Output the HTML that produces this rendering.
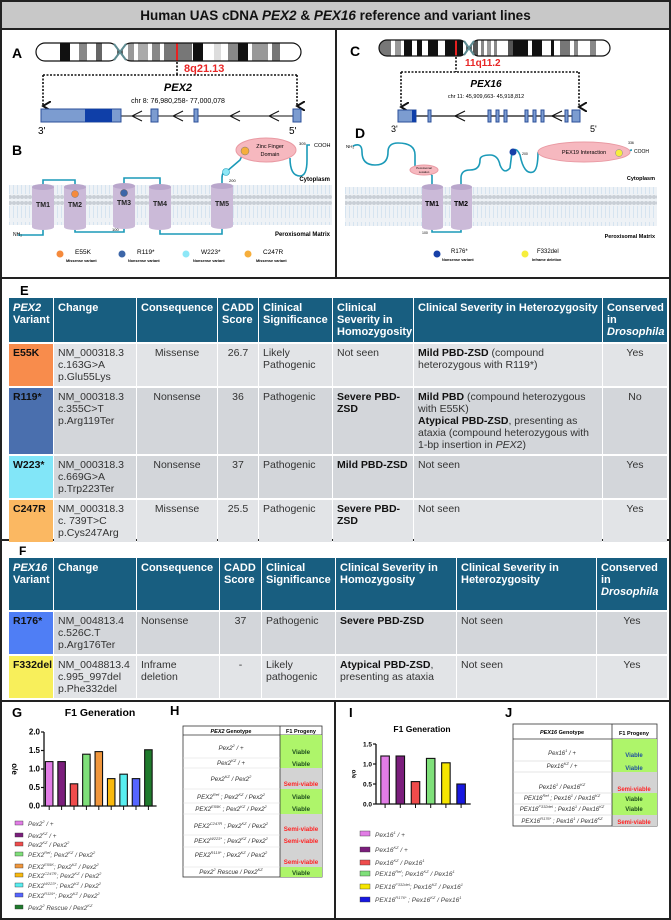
<!DOCTYPE html>
<html><head><meta charset="utf-8">
<style>
*{margin:0;padding:0;box-sizing:border-box}
body{width:671px;height:920px;background:#fff;font-family:"Liberation Sans",Arial,sans-serif;position:relative;overflow:hidden}
.abs{position:absolute}
table.t{position:absolute;border-collapse:separate;border-spacing:1px 2px;table-layout:fixed;font-size:10.5px;line-height:12px;color:#333}
table.t td{vertical-align:top;padding:3px 4px;background:#d3d6da;overflow:hidden}
table.t tr.h td{background:#185e80;color:#fff;font-weight:bold;font-size:11px;line-height:12px;padding:4px 4px}
table.t tr.r2 td{background:#e2e4e7}
table.t td.v{font-weight:bold;color:#111;padding-left:4px}
.c{text-align:center}
b{color:#111}
</style></head>
<body>
<div class="abs" style="left:0;top:0;width:671px;height:920px;border:2px solid #222"></div>
<div class="abs" style="left:2px;top:2px;width:667px;height:28px;background:#c8c8c8;border-bottom:2px solid #222;text-align:center;font-weight:bold;font-size:13.5px;line-height:28px;color:#111">Human UAS cDNA <i>PEX2</i> &amp; <i>PEX16</i> reference and variant lines</div>

<svg class="abs" style="left:0;top:0" width="671" height="920">
<defs>
<pattern id="lip" width="4" height="40" patternUnits="userSpaceOnUse">
<rect width="4" height="40" fill="#eef2f6"/>
<circle cx="2" cy="3" r="2" fill="#c9cfd6"/>
<circle cx="2" cy="37" r="2" fill="#c9cfd6"/>
<line x1="1.5" y1="6" x2="1.5" y2="18" stroke="#d6e4f0" stroke-width="1"/>
<line x1="1.5" y1="22" x2="1.5" y2="34" stroke="#d6e4f0" stroke-width="1"/>
</pattern>
<clipPath id="chrA"><rect x="36" y="43" width="82" height="18" rx="9"/><rect x="122" y="43" width="179" height="18" rx="9"/></clipPath>
<clipPath id="chrC"><rect x="379" y="40" width="88" height="16" rx="8"/><rect x="471" y="40" width="139" height="16" rx="8"/></clipPath>
<marker id="arr" markerWidth="6" markerHeight="6" refX="3" refY="5" orient="auto"><path d="M0,0 L3,5 L6,0" fill="none" stroke="#111" stroke-width="1.2"/></marker>
</defs>
<line x1="2" y1="278" x2="669" y2="278" stroke="#222" stroke-width="2"/>
<line x1="336" y1="30" x2="336" y2="278" stroke="#222" stroke-width="2"/>
<line x1="2" y1="540" x2="669" y2="540" stroke="#222" stroke-width="2"/>
<line x1="2" y1="701" x2="669" y2="701" stroke="#222" stroke-width="2"/>
<line x1="335" y1="701" x2="335" y2="918" stroke="#222" stroke-width="2"/>

<text x="12" y="58" font-size="14" font-weight="bold">A</text>
<g clip-path="url(#chrA)">
<rect x="30" y="40" width="280" height="25" fill="#fff"/>
<rect x="60" y="40" width="10" height="25" fill="#111"/><rect x="79" y="40" width="8" height="25" fill="#888"/><rect x="96" y="40" width="6" height="25" fill="#666"/>
<rect x="128" y="40" width="6" height="25" fill="#999"/><rect x="138" y="40" width="10" height="25" fill="#aaa"/><rect x="152" y="40" width="8" height="25" fill="#888"/><rect x="164" y="40" width="12" height="25" fill="#777"/>
<rect x="176" y="40" width="2.5" height="25" fill="#e82020"/><rect x="178" y="40" width="14" height="25" fill="#777"/><rect x="193" y="40" width="10" height="25" fill="#111"/>
<rect x="214" y="40" width="7" height="25" fill="#ddd"/><rect x="228" y="40" width="10" height="25" fill="#888"/><rect x="238" y="40" width="10" height="25" fill="#111"/><rect x="252" y="40" width="16" height="25" fill="#999"/><rect x="272" y="40" width="8" height="25" fill="#777"/>
</g>
<rect x="36" y="43" width="82" height="18" rx="9" fill="none" stroke="#111" stroke-width="1.2"/>
<rect x="122" y="43" width="179" height="18" rx="9" fill="none" stroke="#111" stroke-width="1.2"/>
<path d="M114,44 L126,60 M114,60 L126,44" stroke="#5e8c92" stroke-width="2"/>
<text x="184" y="72" font-size="11" font-weight="bold" fill="#e82626">8q21.13</text>
<path d="M177,62 V75 M43,75 H297" stroke="#111" stroke-width="1.6" stroke-dasharray="2,1.5" fill="none"/>
<path d="M297,75 V106" stroke="#111" stroke-width="1.6" stroke-dasharray="2,1.5" fill="none" marker-end="url(#arr)"/>
<path d="M43,75 V106" stroke="#111" stroke-width="1.6" stroke-dasharray="2,1.5" fill="none" marker-end="url(#arr)"/>
<text x="178" y="91" font-size="11" font-weight="bold" font-style="italic" text-anchor="middle">PEX2</text>
<text x="178" y="103" font-size="7" text-anchor="middle">chr 8: 76,980,258- 77,000,078</text>
<g>
<line x1="121" y1="116" x2="293" y2="116" stroke="#111" stroke-width="1"/>
<rect x="41" y="109" width="80" height="13" fill="#7c9cd0" stroke="#2b4f9a"/><rect x="85" y="109" width="27" height="13" fill="#0f3fa8"/>
<rect x="151" y="109" width="7" height="13" fill="#7c9cd0" stroke="#2b4f9a"/><rect x="194" y="109" width="4" height="13" fill="#7c9cd0" stroke="#2b4f9a"/><rect x="293" y="109" width="8" height="13" fill="#7c9cd0" stroke="#2b4f9a"/>
<path d="M142,111 L132,116 L142,121 M183,111 L173,116 L183,121 M240,111 L230,116 L240,121 M279,111 L269,116 L279,121" stroke="#111" fill="none"/>
</g>
<text x="38" y="134" font-size="10">3'</text><text x="289" y="134" font-size="10">5'</text>

<text x="12" y="155" font-size="14" font-weight="bold">B</text>
<rect x="9" y="185" width="323" height="40" fill="url(#lip)"/>
<path d="M18,235 H43 V227 M43,187 V180 H75 V187 M75,227 V232 H124 V227 M124,187 V178 H160 V187 M160,227 V234 H222 V227 M222,187 V178 Q222,172 226,172 L240,160 Q244,150 254,150 M290,158 Q290,176 300,176 Q307,176 307,160 V145 H310" stroke="#1b9ab8" stroke-width="1.6" fill="none"/>
<g fill="#cbbad8">
<rect x="32" y="187" width="22" height="40"/><ellipse cx="43" cy="187" rx="11" ry="3" fill="#b9a6cb"/><ellipse cx="43" cy="227" rx="11" ry="3"/>
<rect x="64" y="187" width="22" height="40"/><ellipse cx="75" cy="187" rx="11" ry="3" fill="#b9a6cb"/><ellipse cx="75" cy="227" rx="11" ry="3"/>
<rect x="113" y="186" width="22" height="40"/><ellipse cx="124" cy="186" rx="11" ry="3" fill="#b9a6cb"/><ellipse cx="124" cy="226" rx="11" ry="3"/>
<rect x="149" y="187" width="22" height="40"/><ellipse cx="160" cy="187" rx="11" ry="3" fill="#b9a6cb"/><ellipse cx="160" cy="227" rx="11" ry="3"/>
<rect x="211" y="186" width="22" height="40"/><ellipse cx="222" cy="186" rx="11" ry="3" fill="#b9a6cb"/><ellipse cx="222" cy="226" rx="11" ry="3"/>
</g>
<g font-size="7" font-weight="bold" text-anchor="middle" fill="#222">
<text x="43" y="207">TM1</text><text x="75" y="207">TM2</text><text x="124" y="205">TM3</text><text x="160" y="206">TM4</text><text x="222" y="206">TM5</text>
</g>
<circle cx="75" cy="194" r="3.5" fill="#f58a3c" stroke="#777" stroke-width=".5"/>
<circle cx="124" cy="193" r="3.5" fill="#3d66a8" stroke="#555" stroke-width=".5"/>
<circle cx="226" cy="172" r="3.5" fill="#8de7f7" stroke="#1b9ab8" stroke-width=".6"/>
<ellipse cx="266" cy="150" rx="30" ry="12" fill="#f6b8bf" stroke="#e99aa3"/>
<circle cx="245" cy="151" r="4" fill="#f6ae3c" stroke="#777" stroke-width=".5"/>
<text x="270" y="148" font-size="5.5" text-anchor="middle">Zinc Finger</text><text x="270" y="156" font-size="5.5" text-anchor="middle">Domain</text>
<text x="299" y="145" font-size="4">305</text><text x="314" y="147" font-size="5.5">COOH</text>
<text x="229" y="182" font-size="4">200</text><text x="112" y="231" font-size="4">100</text>
<text x="13" y="236" font-size="5">NH₂</text>
<text x="330" y="181" font-size="6" font-weight="bold" text-anchor="end">Cytoplasm</text>
<text x="330" y="236" font-size="6" font-weight="bold" text-anchor="end">Peroxisomal Matrix</text>
<g>
<circle cx="60" cy="254" r="3.5" fill="#f58a3c"/><text x="75" y="254" font-size="6.5">E55K</text><text x="66" y="262" font-size="3.8" font-weight="bold">Missense variant</text>
<circle cx="122" cy="254" r="3.5" fill="#3d66a8"/><text x="137" y="254" font-size="6.5">R119*</text><text x="128" y="262" font-size="3.8" font-weight="bold">Nonsense variant</text>
<circle cx="186" cy="254" r="3.5" fill="#8de7f7"/><text x="201" y="254" font-size="6.5">W223*</text><text x="193" y="262" font-size="3.8" font-weight="bold">Nonsense variant</text>
<circle cx="248" cy="254" r="3.5" fill="#f6ae3c"/><text x="263" y="254" font-size="6.5">C247R</text><text x="256" y="262" font-size="3.8" font-weight="bold">Missense variant</text>
</g>

<text x="350" y="56" font-size="14" font-weight="bold">C</text>
<g clip-path="url(#chrC)">
<rect x="375" y="38" width="240" height="20" fill="#fff"/>
<rect x="379" y="38" width="12" height="20" fill="#777"/><rect x="395" y="38" width="6" height="20" fill="#999"/><rect x="404" y="38" width="8" height="20" fill="#111"/><rect x="417" y="38" width="5" height="20" fill="#111"/><rect x="428" y="38" width="10" height="20" fill="#111"/><rect x="445" y="38" width="10" height="20" fill="#111"/>
<rect x="455" y="38" width="2" height="20" fill="#e82020"/><rect x="457" y="38" width="6" height="20" fill="#111"/>
<rect x="473" y="38" width="5" height="20" fill="#555"/><rect x="481" y="38" width="3" height="20" fill="#888"/><rect x="487" y="38" width="4" height="20" fill="#999"/><rect x="494" y="38" width="3" height="20" fill="#888"/><rect x="508" y="38" width="5" height="20" fill="#555"/><rect x="513" y="38" width="15" height="20" fill="#111"/><rect x="532" y="38" width="10" height="20" fill="#111"/><rect x="551" y="38" width="3" height="20" fill="#111"/><rect x="560" y="38" width="10" height="20" fill="#777"/><rect x="574" y="38" width="4" height="20" fill="#888"/><rect x="590" y="38" width="6" height="20" fill="#888"/>
</g>
<rect x="379" y="40" width="88" height="16" rx="8" fill="none" stroke="#111" stroke-width="1.2"/>
<rect x="471" y="40" width="139" height="16" rx="8" fill="none" stroke="#111" stroke-width="1.2"/>
<path d="M464,41 L474,55 M464,55 L474,41" stroke="#5e8c92" stroke-width="2"/>
<text x="465" y="66" font-size="10" font-weight="bold" fill="#e82626">11q11.2</text>
<path d="M456,57 V72 M401,72 H579" stroke="#111" stroke-width="1.6" stroke-dasharray="2,1.5" fill="none"/>
<path d="M401,72 V107" stroke="#111" stroke-width="1.6" stroke-dasharray="2,1.5" fill="none" marker-end="url(#arr)"/>
<path d="M579,72 V107" stroke="#111" stroke-width="1.6" stroke-dasharray="2,1.5" fill="none" marker-end="url(#arr)"/>
<text x="486" y="87" font-size="10" font-weight="bold" font-style="italic" text-anchor="middle">PEX16</text>
<text x="486" y="98" font-size="5.5" text-anchor="middle">chr 11: 45,909,663- 45,918,812</text>
<g>
<line x1="416" y1="116" x2="573" y2="116" stroke="#111" stroke-width="1.2"/>
<rect x="398" y="110" width="18" height="12" fill="#7c9cd0" stroke="#2b4f9a"/><rect x="412" y="110" width="4" height="12" fill="#0f3fa8"/>
<rect x="428" y="110" width="3" height="12" fill="#7c9cd0" stroke="#2b4f9a"/>
<rect x="488" y="110" width="3" height="12" fill="#7c9cd0" stroke="#2b4f9a"/><rect x="496" y="110" width="3" height="12" fill="#7c9cd0" stroke="#2b4f9a"/><rect x="504" y="110" width="3" height="12" fill="#7c9cd0" stroke="#2b4f9a"/>
<rect x="525" y="110" width="3" height="12" fill="#7c9cd0" stroke="#2b4f9a"/><rect x="533" y="110" width="3" height="12" fill="#7c9cd0" stroke="#2b4f9a"/><rect x="541" y="110" width="3" height="12" fill="#7c9cd0" stroke="#2b4f9a"/>
<rect x="565" y="110" width="3" height="12" fill="#7c9cd0" stroke="#2b4f9a"/><rect x="572" y="110" width="8" height="12" fill="#7c9cd0" stroke="#2b4f9a"/>
<path d="M465,111 L455,116 L465,121 M562,111 L552,116 L562,121" stroke="#111" fill="none" stroke-width="1.2"/>
</g>
<text x="391" y="132" font-size="9">3'</text><text x="590" y="132" font-size="9">5'</text>

<text x="355" y="138" font-size="14" font-weight="bold">D</text>
<rect x="345" y="187" width="312" height="39" fill="url(#lip)"/>
<path d="M353,146 Q362,142 362,152 Q362,165 375,165 Q388,165 388,152 Q388,143 398,143 Q415,143 415,155 V170 M432,187 V175 M432,227 V232 H461 V227 M461,187 V178 Q461,170 470,170 Q480,170 480,160 Q480,155 490,155 Q498,155 500,165 Q504,175 510,168 L512,152 Q516,146 520,155 Q524,175 533,172 Q538,170 538,152" stroke="#1b9ab8" stroke-width="1.6" fill="none"/>
<path d="M415,170 Q424,170 432,175" stroke="#1b9ab8" stroke-width="1.6" fill="none"/>
<path d="M628,152 Q630,150 632,150" stroke="#1b9ab8" stroke-width="1.6" fill="none"/>
<g fill="#cbbad8">
<rect x="422" y="187" width="21" height="40"/><ellipse cx="432.5" cy="187" rx="10.5" ry="3" fill="#b9a6cb"/><ellipse cx="432.5" cy="227" rx="10.5" ry="3"/>
<rect x="451" y="187" width="21" height="40"/><ellipse cx="461.5" cy="187" rx="10.5" ry="3" fill="#b9a6cb"/><ellipse cx="461.5" cy="227" rx="10.5" ry="3"/>
</g>
<text x="432" y="206" font-size="7" font-weight="bold" text-anchor="middle">TM1</text><text x="461" y="206" font-size="7" font-weight="bold" text-anchor="middle">TM2</text>
<ellipse cx="424" cy="170" rx="14" ry="5" fill="#f6b8bf" stroke="#e99aa3"/>
<text x="424" y="169" font-size="2.8" text-anchor="middle">Peroxisomal</text><text x="424" y="173" font-size="2.8" text-anchor="middle">Location</text>
<circle cx="513" cy="152" r="3.5" fill="#1740a8"/>
<ellipse cx="584" cy="152" rx="46" ry="10" fill="#f6b8bf" stroke="#e99aa3"/>
<text x="584" y="154" font-size="5.5" text-anchor="middle">PEX19 Interaction</text>
<circle cx="619" cy="153" r="3.5" fill="#f6ee3c" stroke="#888" stroke-width=".5"/>
<text x="346" y="148" font-size="4.5">NH₂</text><text x="522" y="155" font-size="3.5">200</text><text x="628" y="144" font-size="3.5">336</text><text x="634" y="153" font-size="5">COOH</text><text x="422" y="234" font-size="3.5">100</text>
<text x="655" y="180" font-size="5.5" font-weight="bold" text-anchor="end">Cytoplasm</text>
<text x="655" y="238" font-size="5.5" font-weight="bold" text-anchor="end">Peroxisomal Matrix</text>
<g>
<circle cx="437" cy="254" r="3.5" fill="#1740a8"/><text x="451" y="253" font-size="6">R176*</text><text x="442" y="261" font-size="3.8" font-weight="bold">Nonsense variant</text>
<circle cx="525" cy="254" r="3.5" fill="#f6ee3c"/><text x="537" y="253" font-size="6">F332del</text><text x="532" y="261" font-size="3.8" font-weight="bold">Inframe deletion</text>
</g>

<text x="20" y="295" font-size="13" font-weight="bold">E</text>
<text x="19" y="555" font-size="12" font-weight="bold">F</text>

<text x="12" y="717" font-size="13" font-weight="bold">G</text>
<text x="100" y="716" font-size="10.5" font-weight="bold" text-anchor="middle">F1 Generation</text>
<text transform="translate(12,769) rotate(90)" font-size="8" font-weight="bold" text-anchor="middle">o/e</text>
<g id="gChart"></g>
<g font-size="6.3" font-style="italic" fill="#444">
<rect x="15" y="821" width="8" height="4" fill="#e27ce6" stroke="#333" stroke-width=".4"/><text x="28" y="826">Pex2<tspan font-size="4" dy="-3">2</tspan><tspan dy="3"> / +</tspan></text>
<rect x="15" y="833" width="8" height="4" fill="#7b1e7c" stroke="#333" stroke-width=".4"/><text x="28" y="838">Pex2<tspan font-size="4" dy="-3">KZ</tspan><tspan dy="3"> / +</tspan></text>
<rect x="15" y="842" width="8" height="4" fill="#ef4c4c" stroke="#333" stroke-width=".4"/><text x="28" y="847">Pex2<tspan font-size="4" dy="-3">KZ</tspan><tspan dy="3"> / Pex2</tspan><tspan font-size="4" dy="-3">2</tspan></text>
<rect x="15" y="852" width="8" height="4" fill="#7fe07a" stroke="#333" stroke-width=".4"/><text x="28" y="857">PEX2<tspan font-size="4" dy="-3">Ref</tspan><tspan dy="3">; Pex2</tspan><tspan font-size="4" dy="-3">KZ</tspan><tspan dy="3"> / Pex2</tspan><tspan font-size="4" dy="-3">2</tspan></text>
<rect x="15" y="864" width="8" height="4" fill="#f0963c" stroke="#333" stroke-width=".4"/><text x="28" y="869">PEX2<tspan font-size="4" dy="-3">E55K</tspan><tspan dy="3">; Pex2</tspan><tspan font-size="4" dy="-3">KZ</tspan><tspan dy="3"> / Pex2</tspan><tspan font-size="4" dy="-3">2</tspan></text>
<rect x="15" y="873" width="8" height="4" fill="#f9b90e" stroke="#333" stroke-width=".4"/><text x="28" y="878">PEX2<tspan font-size="4" dy="-3">C247R</tspan><tspan dy="3">; Pex2</tspan><tspan font-size="4" dy="-3">KZ</tspan><tspan dy="3"> / Pex2</tspan><tspan font-size="4" dy="-3">2</tspan></text>
<rect x="15" y="883" width="8" height="4" fill="#58eef0" stroke="#333" stroke-width=".4"/><text x="28" y="888">PEX2<tspan font-size="4" dy="-3">W223*</tspan><tspan dy="3">; Pex2</tspan><tspan font-size="4" dy="-3">KZ</tspan><tspan dy="3"> / Pex2</tspan><tspan font-size="4" dy="-3">2</tspan></text>
<rect x="15" y="893" width="8" height="4" fill="#5565ff" stroke="#333" stroke-width=".4"/><text x="28" y="898">PEX2<tspan font-size="4" dy="-3">R119*</tspan><tspan dy="3">; Pex2</tspan><tspan font-size="4" dy="-3">KZ</tspan><tspan dy="3"> / Pex2</tspan><tspan font-size="4" dy="-3">2</tspan></text>
<rect x="15" y="905" width="8" height="4" fill="#1f7a2c" stroke="#333" stroke-width=".4"/><text x="28" y="910">Pex2<tspan font-size="4" dy="-3">2</tspan><tspan dy="3"> Rescue / Pex2</tspan><tspan font-size="4" dy="-3">KZ</tspan></text>
</g>

<text x="170" y="715" font-size="13" font-weight="bold">H</text>
<g font-size="6.2" text-anchor="middle">
<rect x="183" y="726" width="139" height="151" fill="#fff" stroke="#333" stroke-width=".8"/>
<line x1="183" y1="735" x2="322" y2="735" stroke="#333" stroke-width=".8"/>
<rect x="280" y="735" width="42" height="33" fill="#aef56a"/><rect x="280" y="768" width="42" height="21" fill="#d3d3d3"/><rect x="280" y="789" width="42" height="25" fill="#aef56a"/><rect x="280" y="814" width="42" height="53" fill="#d3d3d3"/><rect x="280" y="867" width="42" height="10" fill="#aef56a"/>
<line x1="280" y1="726" x2="280" y2="877" stroke="#333" stroke-width=".8"/>
<g stroke="#ddd" stroke-width=".6"><line x1="183" y1="758" x2="280" y2="758"/><line x1="183" y1="768" x2="280" y2="768"/><line x1="183" y1="789" x2="280" y2="789"/><line x1="183" y1="803" x2="280" y2="803"/><line x1="183" y1="814" x2="280" y2="814"/><line x1="183" y1="835" x2="280" y2="835"/><line x1="183" y1="847" x2="280" y2="847"/><line x1="183" y1="867" x2="280" y2="867"/></g>
<text x="231" y="733" font-weight="bold" font-style="italic" font-size="5.5">PEX2 <tspan font-style="normal">Genotype</tspan></text>
<text x="301" y="733" font-weight="bold" font-size="5.5">F1 Progeny</text>
<g font-style="italic" fill="#333">
<text x="231" y="750">Pex2<tspan font-size="4" dy="-3">2</tspan><tspan dy="3"> / +</tspan></text>
<text x="231" y="765">Pex2<tspan font-size="4" dy="-3">KZ</tspan><tspan dy="3"> / +</tspan></text>
<text x="231" y="781">Pex2<tspan font-size="4" dy="-3">KZ</tspan><tspan dy="3"> / Pex2</tspan><tspan font-size="4" dy="-3">2</tspan></text>
<text x="231" y="799">PEX2<tspan font-size="4" dy="-3">Ref</tspan><tspan dy="3"> ; Pex2</tspan><tspan font-size="4" dy="-3">KZ</tspan><tspan dy="3"> / Pex2</tspan><tspan font-size="4" dy="-3">2</tspan></text>
<text x="231" y="811">PEX2<tspan font-size="4" dy="-3">E55K</tspan><tspan dy="3"> ; Pex2</tspan><tspan font-size="4" dy="-3">KZ</tspan><tspan dy="3"> / Pex2</tspan><tspan font-size="4" dy="-3">2</tspan></text>
<text x="231" y="828">PEX2<tspan font-size="4" dy="-3">C247R</tspan><tspan dy="3"> ; Pex2</tspan><tspan font-size="4" dy="-3">KZ</tspan><tspan dy="3"> / Pex2</tspan><tspan font-size="4" dy="-3">2</tspan></text>
<text x="231" y="843">PEX2<tspan font-size="4" dy="-3">W223*</tspan><tspan dy="3"> ; Pex2</tspan><tspan font-size="4" dy="-3">KZ</tspan><tspan dy="3"> / Pex2</tspan><tspan font-size="4" dy="-3">2</tspan></text>
<text x="231" y="857">PEX2<tspan font-size="4" dy="-3">R119*</tspan><tspan dy="3"> ; Pex2</tspan><tspan font-size="4" dy="-3">KZ</tspan><tspan dy="3"> / Pex2</tspan><tspan font-size="4" dy="-3">2</tspan></text>
<text x="231" y="874">Pex2<tspan font-size="4" dy="-3">2</tspan><tspan dy="3"> Rescue / Pex2</tspan><tspan font-size="4" dy="-3">KZ</tspan></text>
</g>
<g font-weight="bold" fill="#1d4d1d">
<text x="301" y="754">Viable</text><text x="301" y="766">Viable</text><text x="301" y="799">Viable</text><text x="301" y="811">Viable</text><text x="301" y="875">Viable</text>
</g>
<g font-weight="bold" fill="#f22">
<text x="301" y="786">Semi-viable</text><text x="301" y="831">Semi-viable</text><text x="301" y="843">Semi-viable</text><text x="301" y="864">Semi-viable</text>
</g>
</g>

<text x="349" y="717" font-size="13" font-weight="bold">I</text>
<text x="422" y="732" font-size="8.5" font-weight="bold" text-anchor="middle">F1 Generation</text>
<text transform="translate(352,774) rotate(90)" font-size="6" font-weight="bold" text-anchor="middle">o/e</text>
<g id="iChart"></g>
<g font-size="6.5" font-style="italic" fill="#444">
<rect x="360" y="831" width="10" height="5" fill="#e27ce6" stroke="#333" stroke-width=".4"/><text x="375" y="837">Pex16<tspan font-size="4" dy="-3">1</tspan><tspan dy="3"> / +</tspan></text>
<rect x="360" y="847" width="10" height="5" fill="#7b1e7c" stroke="#333" stroke-width=".4"/><text x="375" y="852">Pex16<tspan font-size="4" dy="-3">KZ</tspan><tspan dy="3"> / +</tspan></text>
<rect x="360" y="860" width="10" height="5" fill="#ef4c4c" stroke="#333" stroke-width=".4"/><text x="375" y="865">Pex16<tspan font-size="4" dy="-3">KZ</tspan><tspan dy="3"> / Pex16</tspan><tspan font-size="4" dy="-3">1</tspan></text>
<rect x="360" y="871" width="10" height="5" fill="#7fe07a" stroke="#333" stroke-width=".4"/><text x="375" y="876">PEX16<tspan font-size="4" dy="-3">Ref</tspan><tspan dy="3">; Pex16</tspan><tspan font-size="4" dy="-3">KZ</tspan><tspan dy="3"> / Pex16</tspan><tspan font-size="4" dy="-3">1</tspan></text>
<rect x="360" y="884" width="10" height="5" fill="#f6e600" stroke="#333" stroke-width=".4"/><text x="375" y="889">PEX16<tspan font-size="4" dy="-3">F332del</tspan><tspan dy="3">; Pex16</tspan><tspan font-size="4" dy="-3">KZ</tspan><tspan dy="3"> / Pex16</tspan><tspan font-size="4" dy="-3">1</tspan></text>
<rect x="360" y="897" width="10" height="5" fill="#1818e0" stroke="#333" stroke-width=".4"/><text x="375" y="902">PEX16<tspan font-size="4" dy="-3">R176*</tspan><tspan dy="3"> ; Pex16</tspan><tspan font-size="4" dy="-3">KZ</tspan><tspan dy="3"> / Pex16</tspan><tspan font-size="4" dy="-3">1</tspan></text>
</g>

<text x="505" y="717" font-size="13" font-weight="bold">J</text>
<g font-size="6" text-anchor="middle">
<rect x="513" y="724" width="144" height="102" fill="#fff" stroke="#333" stroke-width=".8"/>
<line x1="513" y1="739" x2="657" y2="739" stroke="#333" stroke-width=".8"/>
<rect x="612" y="739" width="45" height="33" fill="#aef56a"/><rect x="612" y="772" width="45" height="21" fill="#d3d3d3"/><rect x="612" y="793" width="45" height="22" fill="#aef56a"/><rect x="612" y="815" width="45" height="11" fill="#d3d3d3"/>
<line x1="612" y1="724" x2="612" y2="826" stroke="#333" stroke-width=".8"/>
<g stroke="#ccc" stroke-width=".6"><line x1="513" y1="761" x2="612" y2="761"/><line x1="513" y1="772" x2="612" y2="772"/><line x1="513" y1="793" x2="612" y2="793"/><line x1="513" y1="804" x2="612" y2="804"/><line x1="513" y1="815" x2="612" y2="815"/></g>
<text x="562" y="734" font-weight="bold" font-style="italic" font-size="5.5">PEX16 <tspan font-style="normal">Genotype</tspan></text>
<text x="634" y="735" font-weight="bold" font-size="5.5">F1 Progeny</text>
<g font-style="italic" fill="#333">
<text x="562" y="755">Pex16<tspan font-size="4" dy="-3">1</tspan><tspan dy="3"> / +</tspan></text>
<text x="562" y="768">Pex16<tspan font-size="4" dy="-3">KZ</tspan><tspan dy="3"> / +</tspan></text>
<text x="562" y="789">Pex16<tspan font-size="4" dy="-3">1</tspan><tspan dy="3"> / Pex16</tspan><tspan font-size="4" dy="-3">KZ</tspan></text>
<text x="562" y="800">PEX16<tspan font-size="4" dy="-3">Ref</tspan><tspan dy="3"> ; Pex16</tspan><tspan font-size="4" dy="-3">1</tspan><tspan dy="3"> / Pex16</tspan><tspan font-size="4" dy="-3">KZ</tspan></text>
<text x="562" y="811">PEX16<tspan font-size="4" dy="-3">F332del</tspan><tspan dy="3"> ; Pex16</tspan><tspan font-size="4" dy="-3">1</tspan><tspan dy="3"> / Pex16</tspan><tspan font-size="4" dy="-3">KZ</tspan></text>
<text x="562" y="823">PEX16<tspan font-size="4" dy="-3">R176*</tspan><tspan dy="3"> ; Pex16</tspan><tspan font-size="4" dy="-3">1</tspan><tspan dy="3"> / Pex16</tspan><tspan font-size="4" dy="-3">KZ</tspan></text>
</g>
<g font-weight="bold" fill="#1f4fa0">
<text x="634" y="757">Viable</text><text x="634" y="770">Viable</text>
</g>
<g font-weight="bold" fill="#1d4d1d"><text x="634" y="801">Viable</text><text x="634" y="811">Viable</text></g>
<g font-weight="bold" fill="#f22"><text x="634" y="791">Semi-viable</text><text x="634" y="824">Semi-viable</text></g>
</g>
</svg>

<table class="t" style="left:8px;top:296px;width:660px">
<colgroup><col style="width:44px"><col style="width:82px"><col style="width:80px"><col style="width:40px"><col style="width:73px"><col style="width:80px"><col style="width:188px"><col style="width:64px"></colgroup>
<tr class="h" style="height:41px"><td><i>PEX2</i><br>Variant</td><td>Change</td><td class="c">Consequence</td><td>CADD Score</td><td>Clinical Significance</td><td>Clinical Severity in Homozygosity</td><td>Clinical Severity in Heterozygosity</td><td>Conserved in <i>Drosophila</i></td></tr>
<tr class="r2" style="height:40px"><td class="v" style="background:#f88c4c">E55K</td><td>NM_000318.3<br>c.163G&gt;A<br>p.Glu55Lys</td><td class="c">Missense</td><td class="c">26.7</td><td>Likely Pathogenic</td><td>Not seen</td><td><b>Mild PBD-ZSD</b> (compound heterozygous with R119*)</td><td class="c">Yes</td></tr>
<tr style="height:65px"><td class="v" style="background:#4a6fae">R119*</td><td>NM_000318.3<br>c.355C&gt;T<br>p.Arg119Ter</td><td class="c">Nonsense</td><td class="c">36</td><td>Pathogenic</td><td><b>Severe PBD-ZSD</b></td><td><b>Mild PBD</b> (compound heterozygous with E55K)<br><b>Atypical PBD-ZSD</b>, presenting as ataxia (compound heterozygous with 1-bp insertion in <i>PEX</i>2)</td><td class="c">No</td></tr>
<tr style="height:40px"><td class="v" style="background:#82e6f8">W223*</td><td>NM_000318.3<br>c.669G&gt;A<br>p.Trp223Ter</td><td class="c">Nonsense</td><td class="c">37</td><td>Pathogenic</td><td><b>Mild PBD-ZSD</b></td><td>Not seen</td><td class="c">Yes</td></tr>
<tr class="r2" style="height:42px"><td class="v" style="background:#fbb862">C247R</td><td>NM_000318.3<br>c. 739T&gt;C<br>p.Cys247Arg</td><td class="c">Missense</td><td class="c">25.5</td><td>Pathogenic</td><td><b>Severe PBD-ZSD</b></td><td>Not seen</td><td class="c">Yes</td></tr>
</table>

<table class="t" style="left:8px;top:556px;width:660px">
<colgroup><col style="width:44px"><col style="width:82px"><col style="width:82px"><col style="width:41px"><col style="width:73px"><col style="width:120px"><col style="width:139px"><col style="width:70px"></colgroup>
<tr class="h" style="height:52px"><td><i>PEX16</i><br>Variant</td><td>Change</td><td>Consequence</td><td>CADD Score</td><td>Clinical Significance</td><td>Clinical Severity in Homozygosity</td><td>Clinical Severity in Heterozygosity</td><td>Conserved in <i>Drosophila</i></td></tr>
<tr style="height:42px"><td class="v" style="background:#4f7ef5">R176*</td><td>NM_004813.4<br>c.526C.T<br>p.Arg176Ter</td><td>Nonsense</td><td class="c">37</td><td>Pathogenic</td><td><b>Severe PBD-ZSD</b></td><td>Not seen</td><td class="c">Yes</td></tr>
<tr class="r2" style="height:42px"><td class="v" style="background:#f8ef5b">F332del</td><td>NM_0048813.4<br>c.995_997del<br>p.Phe332del</td><td>Inframe deletion</td><td class="c">-</td><td>Likely pathogenic</td><td><b>Atypical PBD-ZSD</b>, presenting as ataxia</td><td>Not seen</td><td class="c">Yes</td></tr>
</table>

<script>
const gCategories = ['Pex2^2/+','Pex2^KZ/+','Pex2^KZ/Pex2^2','PEX2^Ref','PEX2^E55K','PEX2^C247R','PEX2^W223*','PEX2^R119*','Pex2^2 Rescue'];
const gValues = [1.2, 1.2, 0.6, 1.4, 1.47, 0.74, 0.86, 0.74, 1.52];
const gColors = ['#e27ce6','#7b1e7c','#ef4c4c','#7fe07a','#f0963c','#f9b90e','#58eef0','#5565ff','#1f7a2c'];
const gTickValues = [0, 0.5, 1.0, 1.5, 2.0];
const gTickLabels = ['0.0','0.5','1.0','1.5','2.0'];

const iCategories = ['Pex16^1/+','Pex16^KZ/+','Pex16^KZ/Pex16^1','PEX16^Ref','PEX16^F332del','PEX16^R176*'];
const iValues = [1.2, 1.2, 0.56, 1.14, 1.03, 0.5];
const iColors = ['#e27ce6','#7b1e7c','#ef4c4c','#7fe07a','#f6e600','#1818e0'];
const iTickValues = [0, 0.5, 1.0, 1.5];
const iTickLabels = ['0.0','0.5','1.0','1.5'];

const NS = 'http://www.w3.org/2000/svg';
function mk(tag, attrs, parent){const e=document.createElementNS(NS,tag);for(const k in attrs)e.setAttribute(k,attrs[k]);parent.appendChild(e);return e;}

function drawChart(g, cfg){
  const yScale = v => cfg.y0 - (v/cfg.max)*(cfg.y0-cfg.y1);
  const xScale = i => cfg.x0 + cfg.step*(i+0.5);
  mk('line',{x1:cfg.xa,y1:cfg.y1,x2:cfg.xa,y2:cfg.y0,stroke:'#111','stroke-width':1.3},g);
  mk('line',{x1:cfg.xa,y1:cfg.y0,x2:cfg.x0+cfg.step*cfg.vals.length+2,y2:cfg.y0,stroke:'#111','stroke-width':1.3},g);
  cfg.ticks.forEach((t,k)=>{
    const y=yScale(t);
    const tk=mk('line',{x1:cfg.xa-3,y1:y,x2:cfg.xa,y2:y,stroke:'#111','stroke-width':1.2},g);
    
    
    const tx=mk('text',{x:cfg.xa-4,y:y+2.5,'font-size':cfg.fs,'font-weight':'bold','text-anchor':'end'},g);
    
    
    tx.textContent=cfg.tickLabels[k];
  });
  cfg.vals.forEach((v,i)=>{
    const x=xScale(i), y=yScale(v);
    const b=mk('rect',{x:x-cfg.bw/2,y:y,width:cfg.bw,height:cfg.y0-y,fill:cfg.colors[i],stroke:'#111','stroke-width':1.1},g);
    
    
    const tk=mk('line',{x1:x,y1:cfg.y0,x2:x,y2:cfg.y0+4,stroke:'#111','stroke-width':1},g);
    
    
  });
}
const gG=document.getElementById('gChart');


drawChart(gG,{vals:gValues,cats:gCategories,colors:gColors,ticks:gTickValues,tickLabels:gTickLabels,max:2.0,y0:806,y1:732,xa:44,x0:43,step:12.4,bw:7.5,fs:8});
const gI=document.getElementById('iChart');


drawChart(gI,{vals:iValues,cats:iCategories,colors:iColors,ticks:iTickValues,tickLabels:iTickLabels,max:1.5,y0:804,y1:744,xa:376,x0:377.5,step:15.2,bw:8.5,fs:6.5});
</script>
</body></html>
